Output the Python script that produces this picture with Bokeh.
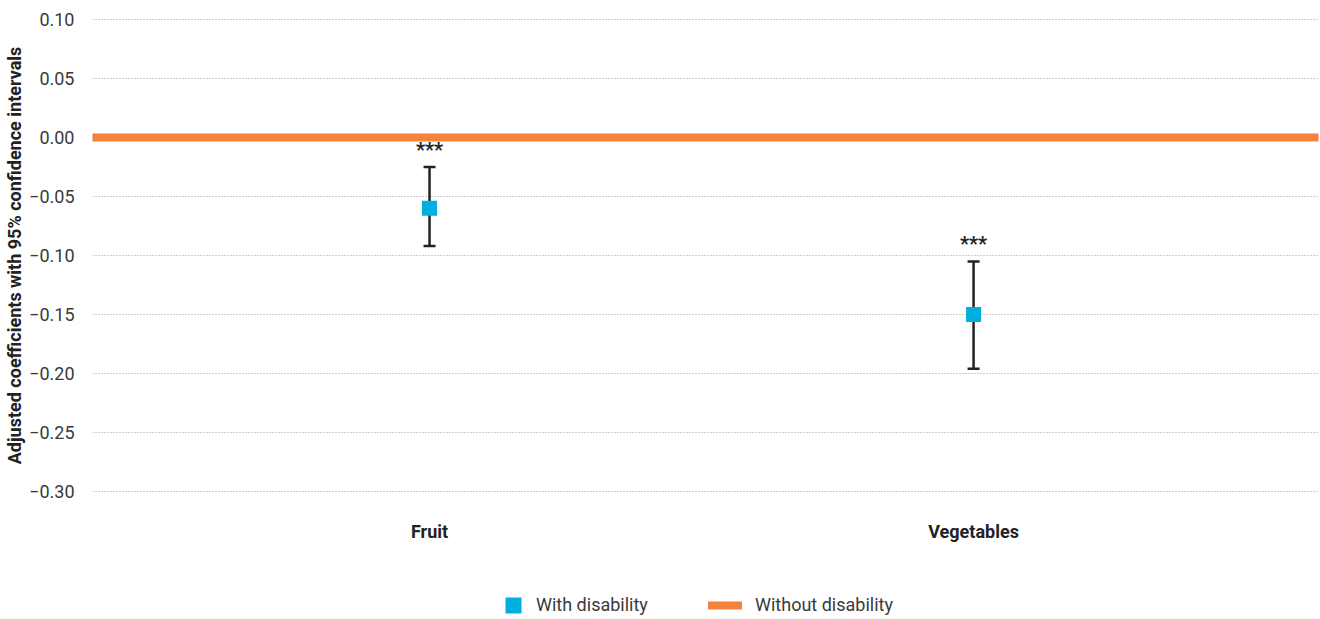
from bokeh.plotting import figure
from bokeh.layouts import column
from bokeh.models import (ColumnDataSource, Range1d, FixedTicker, CustomJSTickFormatter,
                          Whisker, TeeHead, Legend, LegendItem)
from bokeh.core.properties import value
from bokeh.embed import file_html
from bokeh.resources import INLINE

# ---- data ----
categories = ["Fruit", "Vegetables"]
coef = [-0.060, -0.150]
ci_lower = [-0.092, -0.196]
ci_upper = [-0.025, -0.105]
significance = ["***", "***"]
reference_value = 0.0
y_ticks = [-0.30, -0.25, -0.20, -0.15, -0.10, -0.05, 0.00, 0.05, 0.10]
series_names = ["With disability", "Without disability"]
y_title = "Adjusted coefficients with 95% confidence intervals"

BLUE = "#00AEE0"
ORANGE = "#F4823C"
DARK = "#222222"
FONT = "Roboto"

xs = list(range(len(categories)))
src = ColumnDataSource(dict(x=xs, coef=coef, lo=ci_lower, hi=ci_upper, sig=significance))

p = figure(width=1320, height=560, output_backend="svg", toolbar_location=None,
           x_range=Range1d(-0.6195, 1.634), y_range=Range1d(-0.305, 0.105),
           min_border_left=92, min_border_right=2, min_border_top=13, min_border_bottom=63)
p.outline_line_color = None
p.background_fill_color = "white"
p.border_fill_color = "white"

# grid
p.xgrid.grid_line_color = None
p.ygrid.ticker = FixedTicker(ticks=y_ticks)
p.ygrid.grid_line_color = "#9a9a9a"
p.ygrid.grid_line_dash = "1 2"
p.ygrid.grid_line_width = 1

# y axis
yax = p.yaxis[0]
yax.ticker = FixedTicker(ticks=y_ticks)
yax.formatter = CustomJSTickFormatter(code="return tick.toFixed(2).replace('-', '\u2212');")
yax.axis_line_color = None
yax.major_tick_line_color = None
yax.minor_tick_line_color = None
yax.major_label_standoff = 12
yax.major_label_text_font = FONT
yax.major_label_text_font_size = "18px"
yax.major_label_text_color = "#3a3a3a"
yax.axis_label = y_title
yax.axis_label_text_font = FONT
yax.axis_label_text_font_style = "bold"
yax.axis_label_text_font_size = "18px"
yax.axis_label_text_color = DARK
yax.axis_label_standoff = 1

# x axis
xax = p.xaxis[0]
xax.ticker = FixedTicker(ticks=xs)
xax.major_label_overrides = {i: c for i, c in zip(xs, categories)}
xax.axis_line_color = None
xax.major_tick_line_color = None
xax.minor_tick_line_color = None
xax.major_label_standoff = 17
xax.major_label_text_font = FONT
xax.major_label_text_font_style = "bold"
xax.major_label_text_font_size = "18px"
xax.major_label_text_color = DARK

# reference line (without disability)
p.hspan(y=[reference_value], line_color=ORANGE, line_width=8, line_cap="round")

# confidence intervals
wh = Whisker(source=src, base="x", upper="hi", lower="lo", dimension="height",
             line_color=DARK, line_width=2.5,
             upper_head=TeeHead(size=12, line_color=DARK, line_width=2.5),
             lower_head=TeeHead(size=12, line_color=DARK, line_width=2.5))
p.add_layout(wh)

p.rect(x="x", y="coef", width=15, height=15, width_units="screen", height_units="screen",
       fill_color=BLUE, line_color=None, source=src)

p.text(x="x", y="hi", text="sig", source=src, y_offset=-17, text_align="center",
       text_baseline="middle", text_font=value(FONT), text_font_style="bold",
       text_font_size="20px", text_color=DARK)

# ---- legend strip (frame aligned with the chart frame by the column layout) ----
lg = figure(width=1320, height=59, output_backend="svg", toolbar_location=None,
            x_range=Range1d(0, 1), y_range=Range1d(1, 2),
            x_axis_type=None, y_axis_type=None,
            min_border_left=0, min_border_right=0, min_border_top=0, min_border_bottom=0)
lg.outline_line_color = None
lg.xgrid.visible = False
lg.ygrid.visible = False
# legend proxies (their data lies outside this strip's range, only the legend glyphs show)
sq = lg.rect(x="x", y="coef", source=src, width=15, height=15, width_units="screen",
             height_units="screen", fill_color=BLUE, line_color=None)
ln = lg.line(x="x", y="coef", source=src, line_color=ORANGE, line_width=8, line_cap="round")

common = dict(orientation="horizontal", border_line_color=None, background_fill_alpha=0,
              padding=0, margin=0, spacing=0, label_text_font=FONT,
              label_text_font_size="18px", label_text_color="#3a3a3a",
              label_height=20, glyph_height=20)
leg1 = Legend(items=[LegendItem(label=series_names[0], renderers=[sq])],
              location=(411, 4), glyph_width=20, label_standoff=13, **common)
leg2 = Legend(items=[LegendItem(label=series_names[1], renderers=[ln])],
              location=(616, 4), glyph_width=34, label_standoff=13, **common)
lg.add_layout(leg1)
lg.add_layout(leg2)

layout = column(p, lg, spacing=0)
open("out.html", "w").write(file_html(layout, INLINE))
